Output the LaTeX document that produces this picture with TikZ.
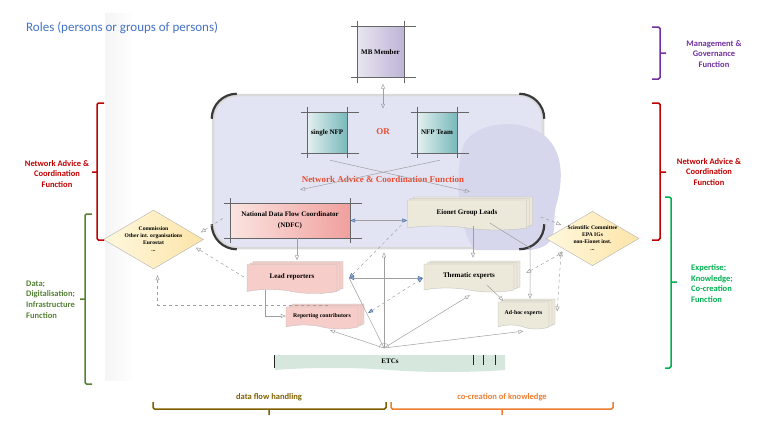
\documentclass[tikz,border=0pt]{standalone}
\usepackage{fontspec}
\setmainfont{Liberation Serif}
\newfontfamily\labelfont{Carlito}
\usepackage{tikz}
\usetikzlibrary{calc, positioning, arrows.meta, shapes.geometric, shapes.symbols, shadows}
\usepackage{xcolor}
\definecolor{titleblue}{RGB}{68,114,196}
\definecolor{mgmt}{RGB}{112,48,160}
\definecolor{netred}{RGB}{192,0,0}
\definecolor{expgreen}{RGB}{0,176,80}
\definecolor{datagreen}{RGB}{84,130,53}
\definecolor{flowbrown}{RGB}{127,96,0}
\definecolor{cocorange}{RGB}{237,125,49}
\definecolor{nactext}{RGB}{232,78,50}
\definecolor{nacfill}{RGB}{226,228,244}
\definecolor{blobfill}{RGB}{214,214,236}
\definecolor{mbL}{RGB}{232,230,240}
\definecolor{mbR}{RGB}{190,180,214}
\definecolor{nfpL}{RGB}{228,240,240}
\definecolor{nfpR}{RGB}{120,185,188}
\definecolor{pinkL}{RGB}{250,228,224}
\definecolor{pinkR}{RGB}{240,160,158}
\definecolor{pinkbox}{RGB}{246,205,200}
\definecolor{beige}{RGB}{236,232,218}
\definecolor{etcgreen}{RGB}{214,232,222}
\definecolor{diaL}{RGB}{255,248,222}
\definecolor{diaR}{RGB}{252,228,168}
\definecolor{tipblue}{RGB}{150,180,220}
\definecolor{tipedge}{RGB}{80,110,160}
\newcommand{\gridlines}[1]{%
  \draw[gridline] ([xshift=-6pt]#1.north west) -- ([xshift=12pt]#1.north east);
  \draw[gridline] ([xshift=-6pt]#1.south west) -- ([xshift=12pt]#1.south east);
  \draw[gridline] ([yshift=5pt]#1.north west) -- ([yshift=-5pt]#1.south west);
  \draw[gridline] ([yshift=5pt]#1.north east) -- ([yshift=-5pt]#1.south east);}

\begin{document}
\begin{tikzpicture}[x=1pt, y=-1pt,
  role/.style={font=\bfseries\fontsize{7}{9}\selectfont, align=center, inner sep=1pt},
  smallrole/.style={role, font=\bfseries\fontsize{5.8}{7}\selectfont},
  gridline/.style={draw=gray!80!black, line width=0.45pt},
  paper/.style={role, tape, tape bend top=none, tape bend bottom=out and in, tape bend height=4pt, draw=gray!55, line width=0.3pt},
  stack/.style={double copy shadow={shadow xshift=3pt, shadow yshift=1.5pt, fill=#1, draw=gray!55}},
  actor/.style={diamond, aspect=1.7, draw=gray!60, inner sep=0pt, left color=diaL, right color=diaR,
    font=\bfseries\fontsize{5.6}{7}\selectfont, align=center},
  nacbox/.style={rounded corners=25pt, fill=nacfill, draw=gray!30, line width=2.5pt},
  rimdark/.style={draw=gray!45!black, line width=2.2pt},
  nacl/.style={font=\bfseries\fontsize{9}{11}\selectfont, text=nactext},
  link/.style={draw=gray!75, line width=0.5pt, -{Triangle[open, length=5pt, width=4pt]}},
  biline/.style={link, {Triangle[open, length=5pt, width=4pt]}-{Triangle[open, length=5pt, width=4pt]}},
  bluetip/.style={-{Triangle[fill=tipblue, color=tipedge, length=5pt, width=4pt]}},
  bluebi/.style={{Triangle[fill=tipblue, color=tipedge, length=5pt, width=4pt]}-{Triangle[fill=tipblue, color=tipedge, length=5pt, width=4pt]}},
  dlink/.style={link, dashed},
  dbiline/.style={biline, dashed},
  fbrace/.style={line width=1.5pt, rounded corners=1.5pt},
  flabel/.style={font=\labelfont\bfseries\fontsize{8.5}{10.8}\selectfont, align=center, inner sep=0pt}]
  \useasboundingbox (0,0) rectangle (768,434);
  % faint backdrop
  \fill[left color=black!4, right color=white] (105,13) rectangle (135,380);
  \node[font=\labelfont\fontsize{13}{15}\selectfont, text=titleblue, anchor=west, inner sep=0pt] (title) at (26,28) {Roles (persons or groups of persons)};

  % network advice & coordination area
  \node[nacbox, minimum width=330pt, minimum height=153pt] (nac) at (378,171.5) {};
  \fill[blobfill] (462,150) .. controls (468,122) and (520,116) .. (545,136)
    .. controls (566,154) and (562,186) .. (556,206) .. controls (551,226) and (562,246) .. (530,250)
    -- (475,250) .. controls (458,230) and (455,176) .. (462,150) -- cycle;
  \draw[rimdark] ([yshift=-25pt]nac.north west) arc[start angle=180, end angle=90, radius=25pt];
  \draw[rimdark] ([xshift=-25pt]nac.north east) arc[start angle=90, end angle=0, radius=25pt];
  \draw[rimdark] ([yshift=25pt]nac.south west) arc[start angle=180, end angle=270, radius=25pt];
  \draw[rimdark] ([yshift=25pt]nac.south east) arc[start angle=0, end angle=-90, radius=25pt];

  \node[role, minimum width=47pt, minimum height=51pt, left color=mbL, right color=mbR] (mb) at (380.5,52) {MB Member};
  \gridlines{mb}
  \node[role, minimum width=40pt, minimum height=41pt, left color=nfpL, right color=nfpR] (nfp) at (327,132.5) {single NFP};
  \gridlines{nfp}
  \node[role, minimum width=40pt, minimum height=41pt, left color=nfpL, right color=nfpR] (nfpt) at (437,132.5) {NFP Team};
  \gridlines{nfpt}
  \node[nacl] (or) at (383,132) {OR};
  \node[nacl] (nacl) at (383,179) {Network Advice \& Coordination Function};
  \node[role, minimum width=120pt, minimum height=35pt, left color=pinkL, right color=pinkR] (ndfc) at (290,220.5) {National Data Flow Coordinator\\[2pt](NDFC)};
  \gridlines{ndfc}
  \node[paper, stack=beige, fill=beige, minimum width=119pt, minimum height=30pt] (egl) at (467,213) {Eionet Group Leads};

  % actors outside the network
  \node[actor, minimum width=93pt, minimum height=55pt] (cm) at (153.5,239.5) {Commission\\Other int. organisations\\Eurostat\\...};
  \node[actor, minimum width=93pt, minimum height=53pt] (sc) at (592.5,238.5) {Scientific Committee\\EPA IGs\\non-Eionet inst.\\...};

  % roles below
  \node[paper, stack=pinkbox, fill=pinkbox, minimum width=90pt, minimum height=29pt] (lr) at (292,277) {Lead reporters};
  \node[paper, smallrole, stack=pinkbox, fill=pinkbox, minimum width=72pt, minimum height=22pt] (rc) at (322,316) {Reporting contributors};
  \node[paper, stack=beige, fill=beige, minimum width=90pt, minimum height=28pt] (th) at (469,276) {Thematic experts};
  \node[paper, smallrole, stack=beige, fill=beige, minimum width=51pt, minimum height=27pt] (ad) at (523.5,313.5) {Ad-hoc experts};
  \node[paper, draw=none, fill=etcgreen, minimum width=230pt, minimum height=17pt] (etc) at (390,361.5) {ETCs};
  \draw[line width=1pt, gray!30!black] (etc.north west) -- (etc.south west);
  \foreach \dx in {-32,-22,-10}
    \draw[line width=0.8pt, gray!30!black] ([xshift=\dx pt]etc.north east) -- ([xshift=\dx pt, yshift=3pt]etc.south east);
  \coordinate (hub) at (384,348);
  \draw[gray!70, fill=white] ([xshift=-5pt]hub) arc[start angle=180, end angle=0, radius=5pt];
  \coordinate (bend) at (530,248);

  % connectors
  \draw[biline] ([xshift=2.5pt, yshift=-6pt]mb.south) -- ([xshift=5pt, yshift=-15pt]nac.north);
  \draw[link] ([xshift=3pt, yshift=-7pt]nfp.south) -- ([xshift=3pt, yshift=8pt]egl.north);
  \draw[link] ([xshift=3pt, yshift=-7pt]nfpt.south) -- ([xshift=10pt, yshift=13pt]ndfc.north);
  \draw[link, bluebi] (ndfc.east) -- (ndfc.east -| egl.west);
  \draw[link] ($(ndfc.south)+(7,0)$) -- ($(ndfc.south |- lr.north)+(7,-4)$);
  \draw[link] ($(egl.south)+(6,0)$) -- ($(egl.south |- th.north)+(6,-6)$);
  \draw[link] ($(egl.south)+(23,-3)$) -- (bend) -- ($(bend |- ad.north)+(0,-3)$);
  \draw[link] ($(th.south)+(18,-3)$) -- ($(ad.north)+(-20,-1)$);
  \draw[link] ($(lr.south)+(-27,0)$) |- (rc.west);
  \draw[link, bluebi] ($(lr.east)+(12,1)$) -- ($(th.west)+(-1,2)$);
  \draw[dlink, bluetip] ($(egl.west)+(-6,12)$) -- ($(lr.east)+(12,1)$);
  \draw[dlink, bluebi] ($(rc.east)+(10,-3)$) -- ($(th.west)+(-1,2)$);
  \draw[dbiline] ($(th.east)+(12,-3)$) -- ($(sc.south west)+(-6,0)$);
  \draw[dbiline] ($(ad.east)+(8,-2)$) -- ($(sc.south west)+(-8,-1)$);
  \draw[dlink] ($(egl.east)+(14,4)$) -- ($(sc.north west)+(-8,0)$);
  \draw[dlink] ($(ndfc.west)+(-7,-2)$) -- ($(cm.east)+(-3,-7)$);
  \draw[dlink] ($(lr.west)+(-3,0)$) -- ($(cm.east)+(-8,8)$);
  \draw[dlink] ($(rc.north)+(6,-2)$) -| ($(cm.south)+(4,6)$);
  \draw[link] (hub) -- ($(nac.south)+(6,3)$);
  \draw[draw=gray!75, line width=0.5pt] (hub) -- ($(lr.east)+(12,1)$);
  \draw[link] (hub) -- ($(rc.south)+(8,5)$);
  \draw[link] (hub) -- ($(th.south)+(1,7)$);
  \draw[link] (hub) -- ($(ad.south)+(0,6)$);

  % function braces
  \draw[fbrace, mgmt] (652,27) -| (660,79) -- (652,79) (660,53) -- (666,53);
  \draw[fbrace, netred] (652,103) -| (660,240) -- (652,240) (660,172) -- (666,172);
  \draw[fbrace, expgreen] (665,197) -| (671,368) -- (665,368) (671,282) -- (677,282);
  \draw[fbrace, netred] (104,103) -| (97,240) -- (104,240) (97,172) -- (92,172);
  \draw[fbrace, datagreen] (92,214) -| (85,384) -- (92,384) (85,299) -- (80,299);
  \draw[fbrace, flowbrown] (153,402) |- (386,409) -- (386,402) (269,409) -- (269,415);
  \draw[fbrace, cocorange] (391,402) |- (613,409) -- (613,402) (502,409) -- (502,415);
  \node[flabel, mgmt] (mgl) at (714,54) {Management \&\\Governance\\Function};
  \node[flabel, netred] (nrl) at (709,172) {Network Advice \&\\Coordination\\Function};
  \node[flabel, expgreen, align=left, anchor=west] (exl) at (691,283.5) {Expertise;\\Knowledge;\\Co-creation\\Function};
  \node[flabel, netred] (nll) at (57,174) {Network Advice \&\\Coordination\\Function};
  \node[flabel, datagreen, align=left, anchor=west] (dtl) at (26,299.5) {Data;\\Digitalisation;\\Infrastructure\\Function};
  \node[flabel, flowbrown] (dfl) at (269,397) {data flow handling};
  \node[flabel, cocorange] (ckl) at (502,397) {co-creation of knowledge};
\end{tikzpicture}
\end{document}
